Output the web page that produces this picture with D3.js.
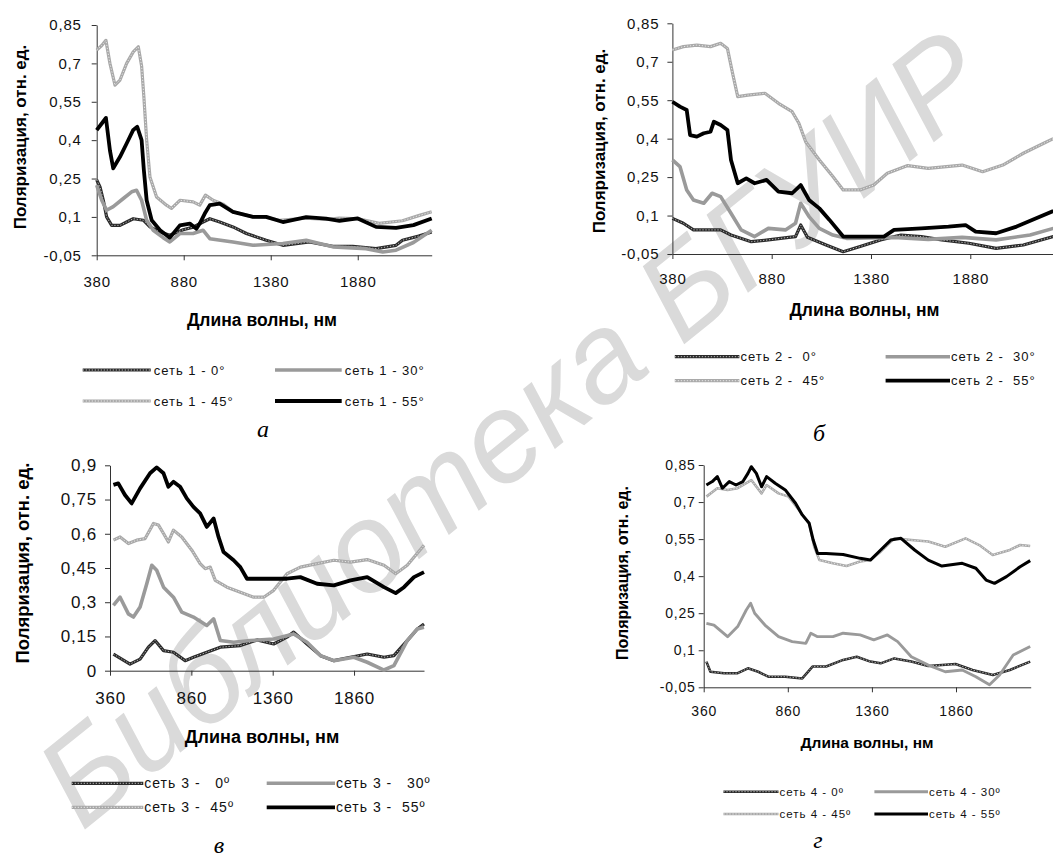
<!DOCTYPE html>
<html><head><meta charset="utf-8">
<script src="https://cdn.jsdelivr.net/npm/d3@7"></script>
<style>body{margin:0;background:#fff} svg{display:block}</style>
</head><body>
<svg id="c" width="1053" height="857"></svg>
<script>
// ---------------- DATA ----------------
const xTicks380 = [380, 880, 1380, 1880];
const xTicks360 = [360, 860, 1360, 1860];
const yTicksA = [-0.05, 0.1, 0.25, 0.4, 0.55, 0.7, 0.85];
const yTicksC = [0, 0.15, 0.3, 0.45, 0.6, 0.75, 0.9];
const seriesNames = ["0°", "30°", "45°", "55°"];
const legend1 = ["сеть 1 - 0°", "сеть 1 - 30°", "сеть 1 - 45°", "сеть 1 - 55°"];
const legend2 = ["сеть 2 -  0°", "сеть 2 -  30°", "сеть 2 -  45°", "сеть 2 -  55°"];
const legend3 = ["сеть 3 -   0º", "сеть 3 -   30º", "сеть 3 -  45º", "сеть 3 -  55º"];
const legend4 = ["сеть 4 - 0º", "сеть 4 - 30º", "сеть 4 - 45º", "сеть 4 - 55º"];
const captions = ["а", "б", "в", "г"];
const xTitle = "Длина волны, нм";
const yTitle = "Поляризация, отн. ед.";
const watermark = "Библиотека БГУИР";

// net 1 : [wavelength nm, polarization]
const net1_0 = [[380,0.245],[399,0.217],[418,0.165],[437,0.10],[466,0.067],[514,0.067],[552,0.08],[590,0.093],[648,0.087],[686,0.061],[744,0.041],[800,0.028],[877,0.05],[934,0.06],[991,0.08],[1030,0.093],[1087,0.08],[1163,0.061],[1240,0.035],[1354,0.009],[1450,-0.011],[1603,0.002],[1737,-0.015],[1851,-0.015],[1985,-0.024],[2100,-0.011],[2137,0.009],[2230,0.025],[2305,0.041]];
const net1_30 = [[380,0.224],[409,0.165],[437,0.126],[475,0.14],[533,0.172],[581,0.198],[609,0.204],[638,0.165],[667,0.087],[705,0.048],[762,0.019],[800,0.002],[858,0.035],[934,0.035],[991,0.048],[1030,0.015],[1163,0.002],[1278,-0.011],[1450,-0.004],[1584,0.009],[1737,-0.017],[1928,-0.024],[2024,-0.037],[2100,-0.03],[2200,0.0],[2305,0.048]];
const net1_45 = [[380,0.752],[409,0.77],[433,0.79],[456,0.70],[485,0.615],[514,0.635],[552,0.70],[590,0.745],[619,0.765],[638,0.69],[651,0.57],[667,0.40],[686,0.256],[724,0.178],[781,0.146],[810,0.133],[858,0.165],[934,0.159],[972,0.146],[1005,0.185],[1049,0.165],[1106,0.15],[1163,0.12],[1278,0.10],[1354,0.098],[1430,0.087],[1584,0.095],[1698,0.09],[1774,0.095],[1890,0.092],[2003,0.075],[2137,0.085],[2230,0.105],[2305,0.12]];
const net1_55 = [[380,0.439],[409,0.465],[433,0.487],[456,0.36],[475,0.29],[514,0.335],[552,0.387],[590,0.44],[613,0.452],[638,0.40],[651,0.283],[667,0.165],[696,0.087],[744,0.048],[800,0.019],[858,0.067],[915,0.074],[953,0.054],[972,0.074],[1001,0.113],[1030,0.146],[1087,0.152],[1163,0.12],[1278,0.10],[1354,0.10],[1450,0.08],[1584,0.099],[1698,0.093],[1775,0.085],[1880,0.094],[1985,0.061],[2100,0.057],[2200,0.068],[2305,0.094]];

// net 2
const net2_0 = [[380,0.089],[435,0.07],[486,0.044],[572,0.044],[623,0.044],[675,0.024],[777,-0.002],[863,0.005],[966,0.015],[1000,0.018],[1026,0.063],[1060,0.015],[1154,-0.015],[1240,-0.041],[1325,-0.021],[1428,0.005],[1531,0.024],[1633,0.018],[1736,0.005],[1873,-0.008],[2010,-0.028],[2147,-0.015],[2298,0.018]];
const net2_30 = [[380,0.317],[418,0.291],[452,0.2],[486,0.161],[538,0.148],[580,0.187],[623,0.174],[675,0.109],[726,0.044],[794,0.018],[863,0.05],[949,0.044],[1000,0.07],[1026,0.148],[1068,0.096],[1120,0.05],[1188,0.024],[1257,0.011],[1496,0.015],[1668,0.007],[1839,0.015],[2010,0.005],[2181,0.024],[2298,0.05]];
const net2_45 = [[380,0.746],[435,0.759],[503,0.765],[572,0.759],[623,0.772],[657,0.752],[683,0.655],[709,0.564],[760,0.57],[846,0.577],[914,0.538],[983,0.505],[1017,0.46],[1051,0.388],[1120,0.317],[1188,0.252],[1240,0.2],[1325,0.2],[1394,0.219],[1462,0.265],[1565,0.295],[1668,0.284],[1839,0.297],[1942,0.271],[2044,0.297],[2147,0.343],[2250,0.382],[2298,0.40]];
const net2_55 = [[380,0.544],[418,0.525],[452,0.512],[469,0.414],[503,0.408],[538,0.421],[572,0.427],[589,0.466],[623,0.453],[657,0.434],[675,0.317],[709,0.226],[752,0.245],[794,0.226],[854,0.239],[914,0.193],[983,0.187],[1026,0.219],[1068,0.161],[1120,0.128],[1171,0.083],[1240,0.018],[1325,0.018],[1445,0.018],[1496,0.044],[1633,0.05],[1770,0.057],[1856,0.063],[1907,0.037],[2010,0.031],[2113,0.057],[2298,0.118]];

// net 3
const net3_0 = [[381,0.073],[432,0.051],[483,0.029],[545,0.051],[596,0.103],[637,0.132],[689,0.088],[750,0.081],[822,0.044],[873,0.059],[955,0.081],[1038,0.103],[1161,0.11],[1264,0.135],[1366,0.117],[1448,0.147],[1489,0.169],[1571,0.117],[1654,0.066],[1736,0.044],[1838,0.059],[1941,0.073],[2044,0.059],[2105,0.066],[2187,0.132],[2249,0.183],[2290,0.205]];
const net3_30 = [[381,0.286],[422,0.322],[473,0.249],[504,0.235],[545,0.279],[586,0.381],[617,0.462],[647,0.44],[689,0.366],[750,0.322],[801,0.257],[873,0.235],[955,0.198],[997,0.227],[1038,0.132],[1120,0.125],[1222,0.132],[1366,0.139],[1489,0.161],[1571,0.125],[1654,0.066],[1736,0.044],[1859,0.059],[1941,0.037],[2044,0.003],[2105,0.022],[2187,0.132],[2249,0.183],[2290,0.19]];
const net3_45 = [[381,0.572],[422,0.586],[473,0.557],[524,0.572],[576,0.579],[627,0.645],[658,0.638],[689,0.601],[719,0.564],[750,0.616],[801,0.586],[863,0.528],[914,0.469],[945,0.447],[976,0.454],[1007,0.396],[1079,0.366],[1161,0.344],[1243,0.322],[1305,0.322],[1366,0.352],[1448,0.425],[1530,0.454],[1633,0.469],[1736,0.484],[1838,0.476],[1941,0.487],[2044,0.462],[2116,0.425],[2187,0.462],[2290,0.55]];
const net3_55 = [[381,0.814],[411,0.821],[452,0.77],[493,0.733],[545,0.799],[606,0.865],[647,0.891],[689,0.865],[719,0.806],[750,0.828],[791,0.806],[832,0.755],[873,0.718],[914,0.689],[955,0.63],[997,0.667],[1027,0.586],[1058,0.52],[1120,0.484],[1161,0.454],[1202,0.403],[1325,0.403],[1448,0.403],[1530,0.41],[1633,0.381],[1736,0.374],[1838,0.396],[1941,0.41],[2044,0.366],[2116,0.34],[2167,0.366],[2228,0.41],[2290,0.432]];

// net 4
const net4_0 = [[376,0.054],[400,0.013],[481,0.007],[562,0.007],[623,0.027],[684,0.013],[744,-0.007],[845,-0.007],[946,-0.014],[1007,0.034],[1088,0.034],[1189,0.061],[1270,0.074],[1351,0.054],[1412,0.047],[1493,0.067],[1594,0.054],[1695,0.036],[1857,0.044],[1958,0.02],[2079,0.0],[2180,0.02],[2301,0.054]];
const net4_30 = [[376,0.209],[421,0.202],[502,0.155],[562,0.196],[613,0.263],[639,0.29],[663,0.25],[724,0.202],[805,0.155],[886,0.135],[967,0.128],[997,0.169],[1037,0.155],[1128,0.155],[1189,0.169],[1290,0.162],[1371,0.142],[1452,0.162],[1513,0.135],[1594,0.074],[1695,0.04],[1796,0.013],[1897,0.02],[1978,-0.007],[2059,-0.04],[2119,0.0],[2200,0.081],[2301,0.115]];
const net4_45 = [[376,0.722],[441,0.756],[502,0.749],[562,0.756],[643,0.789],[704,0.735],[734,0.769],[805,0.735],[865,0.722],[926,0.668],[987,0.614],[1017,0.519],[1048,0.465],[1128,0.452],[1209,0.441],[1290,0.459],[1351,0.465],[1412,0.499],[1493,0.553],[1594,0.546],[1695,0.54],[1796,0.519],[1917,0.553],[1998,0.526],[2078,0.486],[2180,0.506],[2241,0.526],[2301,0.522]];
const net4_55 = [[376,0.769],[411,0.783],[441,0.803],[471,0.756],[512,0.783],[552,0.769],[593,0.783],[623,0.816],[643,0.843],[673,0.816],[704,0.762],[734,0.803],[785,0.776],[845,0.749],[906,0.695],[946,0.648],[987,0.614],[1011,0.546],[1037,0.492],[1088,0.492],[1189,0.488],[1290,0.472],[1351,0.465],[1412,0.506],[1472,0.546],[1533,0.553],[1614,0.506],[1695,0.465],[1776,0.441],[1897,0.452],[1978,0.432],[2039,0.384],[2089,0.371],[2160,0.398],[2241,0.438],[2301,0.463]];

// ---------------- STYLE / LAYOUT ----------------
const styles = [
  {color:"#2b2b2b", w:3.2, dot:"#b8b8b8"},
  {color:"#9a9a9a", w:3.6},
  {color:"#a9a9a9", w:3.2, dot:"#e6e6e6"},
  {color:"#000000", w:3.8}
];
const FONT = "'Liberation Sans', Arial, sans-serif";

const panels = [
  {series:[net1_0,net1_30,net1_45,net1_55], legend:legend1, cap:captions[0],
   xr:[96.7,431.7], yr:[255.3,25], xd:[380,2305], yd:[-0.05,0.85], xt:xTicks380, yt:yTicksA,
   tickFs:15, yPad:10, xPad:16, yT:{x:20,y:137,fs:17}, xT:{x:262,y:320,fs:17.5},
   lg:{rows:[370,401], cols:[[82.7,150.7],[275,341.7]], gap:3, fs:13}, capPos:{x:263,y:437}, sw:1},
  {series:[net2_0,net2_30,net2_45,net2_55], legend:legend2, cap:captions[1],
   xr:[672.4,1053.7], yr:[254,23.3], xd:[380,2300], yd:[-0.05,0.85], xt:xTicks380, yt:yTicksA,
   tickFs:15, yPad:8, xPad:14, yT:{x:599,y:141,fs:17}, xT:{x:864.5,y:310,fs:17.5},
   lg:{rows:[356.7,380.7], cols:[[674.8,739.4],[885.6,950]], gap:1, fs:13}, capPos:{x:819,y:441}, sw:1},
  {series:[net3_0,net3_30,net3_45,net3_55], legend:legend3, cap:captions[2],
   xr:[110,424], yr:[670.7,465.3], xd:[360,2290], yd:[0,0.9], xt:xTicks360, yt:yTicksC,
   tickFs:17, yPad:8, xPad:16, yT:{x:23,y:563,fs:18.5}, xT:{x:262,y:737,fs:18},
   lg:{rows:[783.3,807.3], cols:[[71.7,143.3],[266.7,335]], gap:1, fs:14}, capPos:{x:219,y:853}, sw:1},
  {series:[net4_0,net4_30,net4_45,net4_55], legend:legend4, cap:captions[3],
   xr:[703.7,1030.7], yr:[687.3,465], xd:[360,2304], yd:[-0.05,0.85], xt:xTicks360, yt:yTicksA,
   tickFs:14, yPad:3, xPad:14, yT:{x:622,y:573,fs:16}, xT:{x:867,y:743,fs:15.5},
   lg:{rows:[791.7,814], cols:[[723.4,778.5],[874.4,928]], gap:1, fs:11.5}, capPos:{x:818,y:848}, sw:0.8}
];

// ---------------- DRAW ----------------
const svg = d3.select("#c");
svg.append("rect").attr("width",1053).attr("height",857).attr("fill","#fff");

// watermark (behind everything)
svg.append("text")
  .attr("transform","translate(82,832) rotate(-39)")
  .attr("font-family", FONT).attr("font-size",126).attr("font-style","italic")
  .attr("fill","#dadada")
  .text(watermark);

const fmt = d => String(d).replace(".", ",");

function strokeLine(g, pathD, st, k) {
  g.append("path").attr("d", pathD).attr("fill","none")
    .attr("stroke", st.color).attr("stroke-width", st.w*k)
    .attr("stroke-linejoin","round");
  if (st.dot) {
    g.append("path").attr("d", pathD).attr("fill","none")
      .attr("stroke", st.dot).attr("stroke-width", 1)
      .attr("stroke-dasharray","1.3,1.7");
  }
}

panels.forEach(p => {
  const g = svg.append("g");
  const x = d3.scaleLinear().domain(p.xd).range(p.xr);
  const y = d3.scaleLinear().domain(p.yd).range(p.yr);

  // axes
  const ya = g.append("g").attr("transform",`translate(${p.xr[0]},0)`)
    .call(d3.axisLeft(y).tickValues(p.yt).tickFormat(fmt).tickSize(5).tickSizeOuter(0).tickPadding(p.yPad));
  const xa = g.append("g").attr("transform",`translate(0,${p.yr[0]})`)
    .call(d3.axisBottom(x).tickValues(p.xt).tickFormat(d=>d).tickSize(5).tickSizeOuter(0).tickPadding(p.xPad));
  [ya, xa].forEach(a => {
    a.attr("font-family", FONT).attr("font-size", p.tickFs);
    a.selectAll("text").attr("fill","#111").attr("letter-spacing","0.8px");
    a.selectAll("line").attr("stroke","#333");
    a.select(".domain").attr("stroke","#333");
  });

  // series lines
  const line = d3.line().x(d => x(d[0])).y(d => y(d[1]));
  p.series.forEach((s, i) => strokeLine(g, line(s), styles[i], p.sw));

  // titles
  g.append("text").attr("x", p.xT.x).attr("y", p.xT.y).attr("dy","0.35em")
    .attr("text-anchor","middle").attr("font-family",FONT).attr("font-weight","bold")
    .attr("font-size", p.xT.fs).attr("fill","#000").text(xTitle);
  g.append("text").attr("transform",`translate(${p.yT.x},${p.yT.y}) rotate(-90)`).attr("dy","0.35em")
    .attr("text-anchor","middle").attr("font-family",FONT).attr("font-weight","bold")
    .attr("font-size", p.yT.fs).attr("fill","#000").text(yTitle);

  // legend
  p.legend.forEach((lab, i) => {
    const r = Math.floor(i/2), c = i%2;
    const yy = p.lg.rows[r], [x0, x1] = p.lg.cols[c];
    strokeLine(g, d3.line()([[x0,yy],[x1,yy]]), styles[i], p.sw);
    g.append("text").attr("x", x1 + p.lg.gap).attr("y", yy).attr("dy","0.35em")
      .attr("font-family",FONT).attr("font-size",p.lg.fs).attr("letter-spacing","1px")
      .style("white-space","pre").attr("fill","#111").text(lab);
  });

  // caption
  g.append("text").attr("x", p.capPos.x).attr("y", p.capPos.y).attr("text-anchor","middle")
    .attr("font-family","'Liberation Serif', 'Times New Roman', serif").attr("font-style","italic")
    .attr("font-size",24).attr("fill","#000").text(p.cap);
});
</script>
</body></html>
